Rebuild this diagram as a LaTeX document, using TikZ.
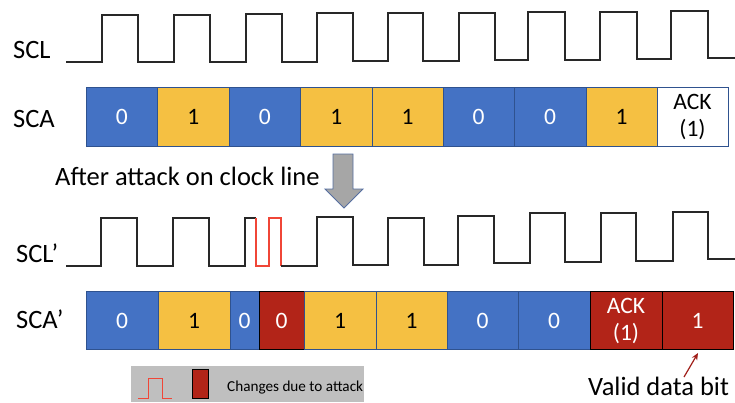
\documentclass[tikz,border=0pt]{standalone}
\usepackage{fontspec}
\setmainfont{Carlito}
\usetikzlibrary{arrows.meta}
\definecolor{cblue}{RGB}{68,114,196}
\definecolor{cyel}{RGB}{245,192,66}
\definecolor{cred}{RGB}{178,36,24}
\definecolor{cbord}{RGB}{47,82,143}
\definecolor{cwave}{RGB}{40,40,40}
\definecolor{cpulse}{RGB}{240,70,55}
\definecolor{clegend}{RGB}{191,191,191}
\definecolor{carrow}{RGB}{166,166,166}
\definecolor{carrowb}{RGB}{85,110,160}
\definecolor{cvalid}{RGB}{160,30,25}
\tikzset{
  cellbase/.style={inner sep=0pt, minimum height=58.5pt, line width=0.8pt, font=\fontsize{23.5}{27}\selectfont, align=center},
  cblu/.style={cellbase, fill=cblue, draw=cbord, text=white},
  cyl/.style={cellbase, fill=cyel, draw=cbord, text=black},
  cwh/.style={cellbase, fill=white, draw=cbord, text=black},
  crd/.style={cellbase, fill=cred, draw=black, text=white},
  biglabel/.style={inner sep=0pt, anchor=base west, font=\fontsize{26.5}{31}\selectfont},
  wave/.style={draw=cwave, line width=1.2pt, line join=miter},
  redwave/.style={draw=cpulse, line width=1.2pt},
}
\begin{document}
\begin{tikzpicture}[x=1pt,y=-1pt]
\useasboundingbox (0,0) rectangle (735,402);
% labels
\node[biglabel] (scl) at (13,58) {SCL};
\node[biglabel] (sca) at (13,127) {SCA};
\node[biglabel] (sclp) at (16,262) {SCL’};
\node[biglabel] (scap) at (16,328) {SCA’};
\node[biglabel] (after) at (55,185) {After attack on clock line};
\node[biglabel] (valid) at (588,395) {Valid data bit};
% SCL waveform
\draw[wave] (66,62) -- (102,62) -- (102,15) -- (138,15) -- (138,62) -- (174,62) -- (174,15) -- (210,15) -- (210,62) -- (246,62) -- (246,14) -- (282,14) -- (282,62) -- (317,62) -- (317,13) -- (353,13) -- (353,61) -- (388,61) -- (388,13) -- (423,13) -- (423,61) -- (459,61) -- (459,13) -- (495,13) -- (495,60) -- (528,60) -- (528,12) -- (565,12) -- (565,60) -- (600,60) -- (600,12) -- (637,12) -- (637,59) -- (671,59) -- (671,11) -- (708,11) -- (708,58) -- (735,58);
% SCA cells
\node[cblu, minimum width=71.5pt] (a1) at (121.75,117) {0};
\node[cyl,  minimum width=71.5pt] (a2) at (193.25,117) {1};
\node[cblu, minimum width=71.5pt] (a3) at (264.75,117) {0};
\node[cyl,  minimum width=71.5pt] (a4) at (336.25,117) {1};
\node[cyl,  minimum width=71pt] (a5) at (407.5,117) {1};
\node[cblu, minimum width=71pt] (a6) at (478.5,117) {0};
\node[cblu, minimum width=72pt] (a7) at (550,117) {0};
\node[cyl,  minimum width=71pt] (a8) at (621.5,117) {1};
\node[cwh,  minimum width=71pt] (a9) at (692.5,117) {ACK\\(1)};
% block arrow
\draw[fill=carrow, draw=carrowb, line width=0.9pt, line join=miter] (333,154) -- (353,154) -- (353,189) -- (363,189) -- (344,208) -- (325,189) -- (333,189) -- cycle;
% SCL' waveform
\draw[wave] (66,266) -- (101,266) -- (101,218) -- (137,218) -- (137,266) -- (173,266) -- (173,218) -- (209,218) -- (209,266) -- (245,266) -- (245,218) -- (256,218);
\draw[redwave] (256,218) -- (256,266) -- (269,266) -- (269,218) -- (281,218) -- (281,266);
\draw[wave] (281,266) -- (317,266) -- (317,217) -- (353,217) -- (353,265) -- (388,265) -- (388,218) -- (424,218) -- (424,265) -- (458,265) -- (458,216) -- (494,216) -- (494,263) -- (530,263) -- (530,213) -- (565,213) -- (565,262) -- (601,262) -- (601,213) -- (636,213) -- (636,261) -- (673,261) -- (673,212) -- (708,212) -- (708,259) -- (735,259);
% SCA' cells
\node[cblu, minimum width=72pt] (b1) at (122,320.5) {0};
\node[cyl,  minimum width=72pt] (b2) at (194,320.5) {1};
\node[cblu, minimum width=29pt] (b3) at (244.5,320.5) {0};
\node[crd,  minimum width=45pt] (b4) at (281.5,320.5) {0};
\node[cyl,  minimum width=72pt] (b5) at (340,320.5) {1};
\node[cyl,  minimum width=71pt] (b6) at (411.5,320.5) {1};
\node[cblu, minimum width=71pt] (b7) at (482.5,320.5) {0};
\node[cblu, minimum width=72pt] (b8) at (554,320.5) {0};
\node[crd,  minimum width=72pt] (b9) at (626,320.5) {ACK\\(1)};
\node[crd,  minimum width=71pt] (b10) at (697.5,320.5) {1};
% legend
\fill[clegend] (131,366) rectangle (364,402);
\draw[redwave, line width=1pt] (138,398) -- (148,398) -- (148,378) -- (162,378) -- (162,398) -- (172,398);
\node[fill=cred, draw=black, line width=0.9pt, minimum width=16pt, minimum height=29pt, inner sep=0pt] (legbox) at (200,383.5) {};
\node[inner sep=0pt, anchor=base west, font=\fontsize{15.2}{18}\selectfont] (legtext) at (227,391) {Changes due to attack};
% valid data bit arrow
\coordinate (vtail) at (684,377);
\coordinate (vtip) at (698,353);
\draw[cvalid, line width=1.2pt, -{Stealth[length=7pt,width=6pt]}] (vtail) -- (vtip);
\end{tikzpicture}
\end{document}
